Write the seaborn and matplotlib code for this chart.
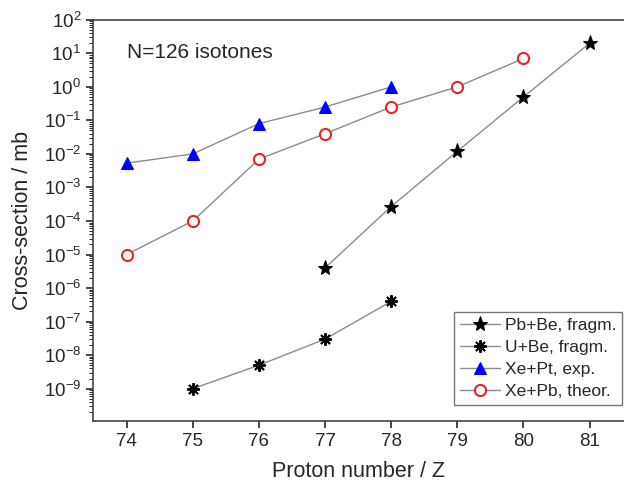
import numpy as np
import pandas as pd
import seaborn as sns
import matplotlib.pyplot as plt
from matplotlib.ticker import LogLocator, FixedLocator

# data
z_pbbe = [77, 78, 79, 80, 81]
cs_pbbe = [4e-6, 2.7e-4, 1.2e-2, 0.5, 20]

z_ube = [75, 76, 77, 78]
cs_ube = [1e-9, 5e-9, 3e-8, 4e-7]

z_xept = [74, 75, 76, 77, 78]
cs_xept = [5.3e-3, 1.0e-2, 8e-2, 0.25, 1.0]

z_xepb = [74, 75, 76, 77, 78, 79, 80]
cs_xepb = [1e-5, 1e-4, 7e-3, 4e-2, 0.25, 1.0, 7.0]

labels = ["Pb+Be, fragm.", "U+Be, fragm.", "Xe+Pt, exp.", "Xe+Pb, theor."]

sns.set_style("ticks")
plt.rcParams['font.family'] = ['Liberation Sans', 'DejaVu Sans']
plt.rcParams['mathtext.fontset'] = 'custom'
plt.rcParams['mathtext.rm'] = 'Liberation Sans'

fig = plt.figure(figsize=(6.24, 4.82), dpi=100)
ax = fig.add_axes([0.149, 0.127, 0.851, 0.832])

line_kw = dict(color='#8c8c8c', linewidth=1.0, ax=ax)
sns.lineplot(x=z_pbbe, y=cs_pbbe, marker='*', markersize=11, markerfacecolor='black',
             markeredgecolor='black', label=labels[0], **line_kw)
sns.lineplot(x=z_ube, y=cs_ube, marker=(8, 2, 0), markersize=9, markeredgewidth=1.4,
             markerfacecolor='black', markeredgecolor='black', label=labels[1], **line_kw)
sns.lineplot(x=z_xept, y=cs_xept, marker='^', markersize=9, markerfacecolor='#0000ff',
             markeredgecolor='#0000ff', label=labels[2], **line_kw)
sns.lineplot(x=z_xepb, y=cs_xepb, marker='o', markersize=8, markerfacecolor='white',
             markeredgecolor='#ee2222', markeredgewidth=1.5, label=labels[3], **line_kw)

ax.set_yscale('log')
ax.set_ylim(1.1e-10, 100)
ax.set_xlim(73.49, 81.52)
ax.xaxis.set_major_locator(FixedLocator(range(74, 82)))
ax.yaxis.set_major_locator(LogLocator(base=10, numticks=20))
ax.yaxis.set_minor_locator(LogLocator(base=10, subs=np.arange(2, 10), numticks=20))

ax.tick_params(axis='both', which='major', labelsize=13.5, direction='out', length=5, width=1.2)
ax.tick_params(axis='y', which='minor', direction='out', length=3, width=0.7)
ax.spines['right'].set_visible(False)
for s in ax.spines.values():
    s.set_color('#444444')
    s.set_linewidth(1.2)

ax.set_xlabel('Proton number / Z', fontsize=15.5, labelpad=8)
ax.set_ylabel('Cross-section / mb', fontsize=15.5)
ax.yaxis.set_label_coords(-0.113, 0.5)
ax.text(74.0, 10**1.02, 'N=126 isotones', fontsize=15, ha='left', va='center')

leg = ax.legend(loc='lower right', bbox_to_anchor=(0.997, 0.04), fontsize=12.5,
                frameon=True, fancybox=False, handlelength=2.3, handletextpad=0.3,
                borderpad=0.35, labelspacing=0.38, borderaxespad=0.0)
leg.get_frame().set_edgecolor('#555555')
leg.get_frame().set_linewidth(1.0)

fig.savefig('out.png', dpi=100)
